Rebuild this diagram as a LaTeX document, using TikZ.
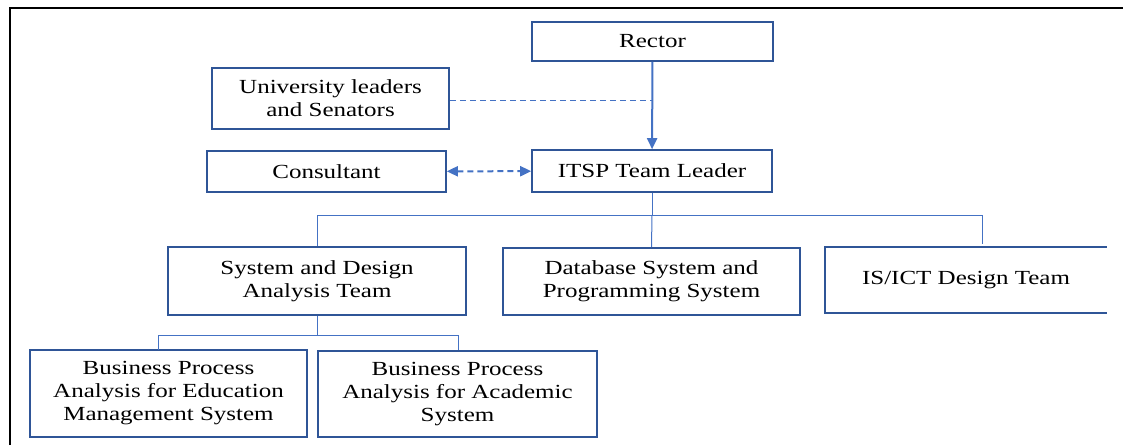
\documentclass[tikz,border=0pt]{standalone}
\usepackage{fontspec}
\setmainfont{Liberation Serif}[FakeStretch=1.25]
\usetikzlibrary{arrows.meta}
\definecolor{boxblue}{RGB}{47,85,151}
\definecolor{lineblue}{RGB}{68,114,196}
\begin{document}
\begin{tikzpicture}[x=1pt,y=-1pt,
	box/.style={draw=boxblue,line width=1.6pt,rectangle,align=center,inner sep=0pt,
		font=\fontsize{20}{23}\selectfont},
	link/.style={draw=lineblue,line width=1pt},
	tip/.style={-{Triangle[length=11pt,width=10pt]}}]

		\useasboundingbox (0,0) rectangle (1123,445);
		\draw[line width=2pt] (9.5,445) -- (9.5,8) -- (1123,8);

		\node[box,minimum width=241pt,minimum height=39pt] (rector) at (652.5,41.5) {Rector};
		\node[box,minimum width=237pt,minimum height=61pt] (senate) at (330.5,98.5) {University leaders\\and Senators};
		\node[box,minimum width=239pt,minimum height=41pt] (consult) at (326.5,171.5) {Consultant};
		\node[box,minimum width=240pt,minimum height=42pt] (itsp) at (652,171) {ITSP Team Leader};

		\node[box,minimum width=298pt,minimum height=68pt] (sda) at (317,281) {System and Design\\Analysis Team};
		\node[box,minimum width=297pt,minimum height=67pt] (dbs) at (651.5,281.5) {Database System and\\Programming System};
		\node[box,draw=none,minimum width=280pt,minimum height=64pt] (isict) at (966,280) {IS/ICT Design Team};
		\draw[boxblue,line width=1.6pt] (isict.north east) -- (isict.north west) -- (isict.south west) -- (isict.south east);

		\node[box,minimum width=277pt,minimum height=87pt] (bpedu) at (168.5,393.5) {Business Process\\Analysis for Education\\Management System};
		\node[box,minimum width=279pt,minimum height=86pt] (bpacad) at (457.5,394) {Business Process\\Analysis for Academic\\System};

		\draw[link,line width=2pt,tip] (rector) -- (itsp);
		\coordinate (meet) at (652,100);
		\draw[link,dash pattern=on 6pt off 4pt] (senate.east |- meet) -- (meet);
		\draw[link,line width=2pt,dash pattern=on 6pt off 4pt,{Triangle[length=11pt,width=10pt]}-{Triangle[length=11pt,width=10pt]}] (consult) -- (itsp);

		\coordinate (bus) at (652,215);
		\coordinate (busright) at (982,215);
		\draw[link] (itsp.south) -- (bus);
		\draw[link] (sda.north) -- (sda.north |- bus) -- (busright) -- ++(0,29);
		\draw[link] (bus) -- (dbs.north);

		\coordinate (sub) at (317,335);
		\draw[link] (sda.south) -- (sub);
		\draw[link] (158,350) -- (158,335) -- (458,335) -- (bpacad.north -| 458,0);

	\end{tikzpicture}
\end{document}
